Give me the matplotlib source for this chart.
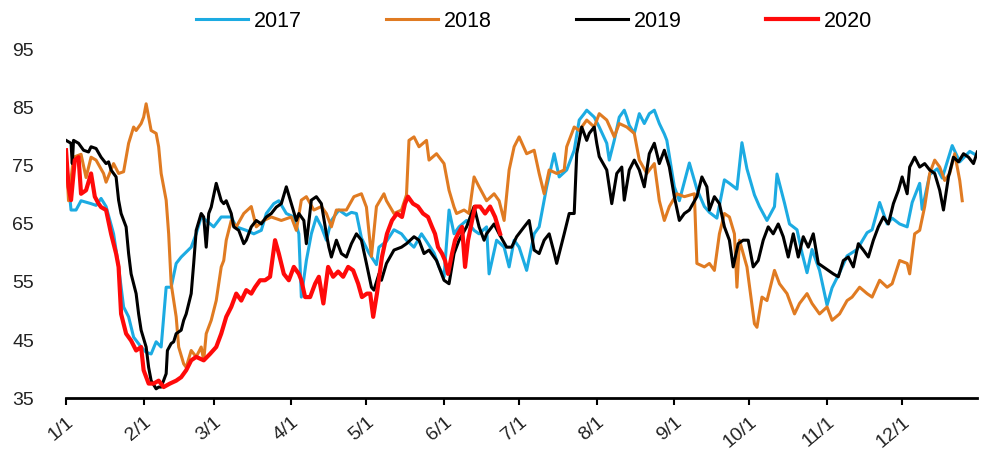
import numpy as np
import matplotlib
matplotlib.use("Agg")
import matplotlib.pyplot as plt

plt.rcParams["font.family"] = ["Liberation Sans", "DejaVu Sans"]

# day of year (0 = 1/1) and index values
days_2017 = [0, 2, 4, 6, 10, 12, 14, 16, 19, 21, 23, 25, 27, 30, 32, 34, 36, 38, 39, 40,
             42, 44, 46, 50, 52, 54, 56, 59, 62, 66, 68, 72, 75, 78, 80, 83, 85, 88, 91, 93,
             94, 96, 98, 100, 102, 104, 106, 109, 112, 114, 116, 118, 121, 124, 125, 128, 131, 134, 136, 139,
             142, 144, 147, 149, 151, 153, 155, 157, 160, 163, 165, 168, 169, 172, 175, 177, 179, 181, 184, 187,
             189, 192, 195, 197, 200, 203, 205, 207, 208, 211, 213, 216, 217, 219, 221, 223, 224, 225, 227, 229,
             231, 233, 235, 237, 239, 240, 243, 245, 249, 252, 255, 257, 260, 263, 265, 268, 270, 272, 275, 277,
             280, 283, 284, 287, 289, 292, 294, 296, 298, 301, 304, 306, 309, 312, 316, 320, 322, 325, 328, 330,
             333, 336, 338, 341, 342, 345, 348, 350, 354, 357, 361, 363]
vals_2017 = [76.5, 67.4, 67.4, 69, 68.5, 68.2, 69.4, 68, 63.3, 57.6, 50.7, 49, 45.5, 43.8, 42.9, 42.6, 44.7, 43.8, 49, 54.1,
             54.1, 58.2, 59.3, 61, 63.3, 66.2, 65.6, 64.5, 66.2, 66.2, 64.5, 63.9, 63.3, 63.9, 66.8, 68.5, 69, 66.8, 66.2, 63.3,
             52.4, 58.7, 63.3, 66.2, 64.5, 62.2, 65.6, 67.4, 66.5, 67, 66.8, 62.6, 60, 58, 61, 62, 64, 63.3, 62.2, 61,
             63.3, 62, 60, 57.6, 55.9, 67.4, 63.3, 64.5, 65.6, 63.9, 63.3, 64.5, 56.4, 62.2, 61, 57.6, 62.2, 61, 57, 63.3,
             64.5, 71.4, 77.1, 73.1, 74.3, 77.7, 82.9, 84, 84.6, 83.4, 81.7, 78.9, 76, 79.4, 83.4, 84.6, 83.4, 82, 80.6, 84,
             82.3, 84, 84.6, 82.3, 80.5, 79.4, 71.4, 69, 75.5, 71, 68, 67, 66, 72.6, 72, 71, 79, 74.5, 70, 68,
             65.6, 68, 73.6, 68.6, 65, 64, 60, 56.6, 60.6, 57, 51, 54, 56.6, 59.5, 60.6, 63.5, 64, 68.7, 65, 66,
             65, 64.5, 68.7, 72, 67.5, 73.5, 74.5, 72.9, 78.5, 75.7, 77.5, 77]

days_2018 = [0, 1, 3, 6, 8, 10, 12, 15, 16, 19, 21, 23, 25, 27, 28, 30, 31, 32, 34, 36,
             37, 38, 40, 41, 42, 44, 45, 47, 48, 50, 52, 54, 55, 56, 58, 60, 62, 63, 64, 66,
             68, 71, 74, 76, 79, 82, 86, 90, 92, 94, 96, 99, 102, 104, 106, 108, 112, 115, 118, 120,
             122, 124, 127, 128, 131, 134, 136, 137, 139, 141, 144, 145, 148, 151, 153, 155, 156, 159, 161, 163,
             165, 168, 171, 173, 175, 177, 179, 181, 184, 187, 189, 191, 193, 196, 199, 200, 203, 205, 208, 211,
             213, 216, 219, 221, 224, 227, 229, 232, 235, 237, 239, 241, 244, 247, 251, 252, 255, 257, 259, 261,
             263, 265, 267, 268, 269, 272, 275, 276, 278, 280, 283, 285, 288, 291, 293, 296, 298, 301, 304, 306,
             309, 312, 314, 317, 320, 322, 325, 328, 330, 333, 336, 337, 339, 341, 343, 345, 347, 349, 351, 353,
             355, 357, 358]
vals_2018 = [77, 69, 76.5, 77, 73, 76.5, 76, 73.7, 72.2, 75.4, 73.7, 74, 78.9, 81.7, 81.1, 82.3, 83.4, 85.7, 81.1, 80.6,
             78.3, 73.7, 69.1, 63.3, 54.7, 49, 43.8, 40.9, 40.3, 43.2, 42.1, 43.8, 41.5, 46.1, 48.4, 51.8, 57.6, 58.7, 62.2, 65.6,
             64.5, 66.8, 68, 64.5, 65.6, 66.2, 65.6, 66.2, 63.9, 69.1, 69.7, 67.4, 68, 66.8, 64.5, 67.4, 67.4, 69.7, 70.2, 67.9,
             59.4, 68, 70.2, 69, 66.8, 67.4, 70, 79.4, 80, 78.3, 79.4, 76, 77.1, 75.4, 70.8, 67.9, 66.8, 67.4, 66.8, 73.1,
             71.4, 69, 70.2, 69, 65.6, 74.3, 78.3, 80, 77.1, 77.7, 73.7, 70.2, 74.3, 73.7, 74.3, 78.3, 81.7, 81.1, 82.9, 81.7,
             84, 82.9, 80, 82.3, 81.7, 80.6, 76, 73.7, 75.4, 69, 65.6, 68, 70.2, 69.7, 70.2, 58.2, 57.6, 58.2, 57, 63.3,
             66.8, 66.2, 63.3, 54.1, 62.2, 57.6, 47.8, 47.2, 52.4, 51.8, 57, 54.7, 53, 49.5, 51.3, 53, 51.3, 49.5, 50.7, 48.4,
             49.5, 51.8, 52.4, 54.1, 53, 52.4, 55.3, 54.1, 54.7, 58.7, 58.2, 56.4, 63.3, 63.9, 68, 73.7, 76, 74.8, 72.5, 73.7,
             77.1, 72.5, 69]

days_2019 = [0, 2, 2.5, 3, 5, 7, 9, 10, 12, 14, 16, 17, 18, 20, 21, 22, 24, 25, 26, 28,
             29, 30, 32, 33, 34, 36, 37, 38, 40, 40.5, 42, 43, 44, 46, 47, 48, 50, 51, 52, 54,
             55, 56, 57, 58, 60, 62, 63, 64, 66, 67, 69, 71, 72, 74, 76, 78, 80, 82, 84, 86,
             88, 90, 92, 93, 95, 96, 98, 100, 102, 104, 105, 106, 108, 110, 112, 114, 116, 118, 120, 122,
             123, 125, 126, 128, 131, 134, 136, 139, 141, 143, 145, 148, 151, 153, 155, 157, 160, 163, 165, 167,
             168, 171, 173, 176, 178, 180, 183, 185, 187, 189, 191, 193, 195, 196, 199, 201, 203, 204, 206, 208,
             209, 211, 212, 213, 216, 218, 220, 222, 223, 225, 227, 229, 231, 233, 235, 237, 239, 241, 243, 245,
             247, 249, 252, 254, 256, 257, 259, 261, 263, 265, 266.5, 268.5, 270.5, 272.5, 274.5, 276.5, 278.5, 280.5, 282.5, 284.5,
             286.5, 288.5, 290.5, 292.5, 294.5, 296.5, 298.5, 300.5, 302.5, 304.5, 306.5, 308.5, 310.5, 312.5, 314.5, 316.5, 318.5, 320.5, 322.5, 324.5,
             326.5, 328.5, 330.5, 332.5, 334, 336, 337, 339, 341, 343, 345, 347, 349, 350.5, 352.5, 354.5, 356.5, 358.5, 360.5, 362.5,
             364]
vals_2019 = [79.4, 78.9, 75.4, 79.4, 78.9, 77.7, 77.4, 78.3, 78, 76.5, 75.4, 75.7, 74.3, 73.1, 69.1, 66.8, 64.5, 59.9, 56.4, 53,
             49.5, 46.7, 43.8, 40.3, 38, 36.6, 36.9, 36.9, 39.2, 43.2, 44.4, 44.7, 46.1, 46.7, 48.4, 49.5, 53, 58.2, 63.9, 66.8,
             66.2, 61, 66.8, 67.9, 72, 69, 68.5, 69, 66.8, 64.5, 63.9, 61.6, 62.2, 64.5, 65.6, 65, 66.2, 66.8, 67.9, 68.5,
             71.4, 68.5, 65.6, 66.8, 65.6, 61.6, 69.1, 69.7, 68.5, 63.3, 61, 59.3, 62.2, 59.9, 59.3, 61.6, 63.3, 62.2, 58.2, 54.1,
             53.6, 56.4, 55.3, 58.2, 60.5, 61, 61.6, 62.8, 62.2, 59.9, 60.5, 58.7, 55.3, 54.7, 59.9, 62.2, 64.5, 68, 64.5, 62.2,
             63.3, 65, 63.3, 61, 61, 62.8, 64.5, 65.6, 60.5, 59.9, 62.2, 63.3, 60, 58.2, 63.3, 66.8, 66.8, 77.1, 81.7, 79.4,
             80.6, 81.7, 78.9, 76.6, 74.3, 68.5, 73.7, 74.8, 69.1, 74.3, 76, 74.3, 71.4, 77.1, 78.9, 75.4, 77.7, 74.8, 69.7, 65.6,
             66.8, 67.4, 69.7, 73.1, 71.4, 67.4, 69.7, 68.5, 64.5, 62.2, 57.6, 61.6, 62.2, 62.2, 57.6, 58.7, 62.2, 64.5, 63.3, 65,
             62.8, 59.3, 63.3, 59.3, 62.8, 61, 63.3, 58.2, 57.6, 57, 56.4, 55.9, 58.7, 59.3, 57.6, 61.6, 60.5, 59.3, 62.2, 64.5,
             66.2, 65, 68.5, 70.8, 73.1, 70.2, 74.8, 76.5, 74.8, 75.4, 74.3, 73.7, 70.8, 67.4, 73.1, 76.5, 75.7, 77.1, 76.5, 75.4,
             77.4]

days_2020 = [0, 1, 2, 3.5, 5, 6, 8, 10, 11.5, 13, 14, 16, 18, 20, 21, 22, 24, 26, 28, 30,
             31, 33, 35, 37, 39, 41.5, 44, 46, 48, 50, 52, 55, 57.5, 60, 62, 64, 66, 68, 70, 72,
             74, 75.5, 77.5, 79.5, 81.5, 83.5, 85, 87, 89, 91, 93, 94, 95.5, 97.5, 99.5, 101, 102.8, 104.7, 106.7, 108.7,
             110.7, 112.7, 114.7, 116.7, 118.2, 120.2, 121.5, 122.7, 124.2, 126.2, 128.2, 130.2, 132.2, 134.2, 135.4, 136.6, 138.6, 140.6, 142.6, 144.6,
             146.2, 147.4, 148.6, 150.2, 151.4, 152.6, 154.2, 155.4, 156.6, 158.2, 159.4, 160.6, 162.2, 163.4, 165.4, 167.4, 169.4, 171.4, 173.4]
vals_2020 = [77.7, 71.4, 69.1, 76, 76.5, 70.2, 70.8, 73.7, 69.7, 68.5, 67.9, 67.4, 63.3, 59.9, 57.6, 49.5, 46.1, 44.9, 43.2, 43.8,
             39.8, 37.5, 37.5, 38, 36.9, 37.5, 38, 38.6, 39.8, 41.5, 42.1, 41.5, 42.6, 43.8, 46.1, 49, 50.7, 53, 51.8, 53.6,
             53, 54.1, 55.3, 55.3, 55.9, 62.2, 59.9, 56.4, 55.3, 57.6, 56.4, 55.3, 52.4, 52.4, 54.7, 55.9, 51.3, 57.6, 55.9, 56.8,
             55.9, 57.6, 57, 54.7, 52.4, 53, 53, 49, 53, 59.3, 63.3, 65.6, 66.8, 66.2, 68.5, 69.7, 68.5, 68, 66.8, 66.2,
             64.5, 63.3, 61, 59.9, 58.7, 56.4, 59.9, 62.2, 63.3, 64.5, 57.6, 62.2, 65.6, 68, 68, 66.8, 68, 66.2, 63.3]

month_days = [0, 31, 59, 90, 120, 151, 181, 212, 243, 273, 304, 334]
month_labels = ["1/1", "2/1", "3/1", "4/1", "5/1", "6/1", "7/1", "8/1", "9/1", "10/1", "11/1", "12/1"]
y_ticks = [35, 45, 55, 65, 75, 85, 95]

fig = plt.figure(figsize=(10.08, 4.70), dpi=100)
ax = fig.add_axes([0.0655, 0.153, 0.904, 0.741])

ax.plot(days_2017, vals_2017, color="#1CABE2", lw=2.2, label="2017")
ax.plot(days_2018, vals_2018, color="#E07B22", lw=2.2, label="2018")
ax.plot(days_2019, vals_2019, color="black", lw=2.2, label="2019")
ax.plot(days_2020, vals_2020, color="#FF0A0A", lw=3.0, label="2020")

ax.set_xlim(0, 364)
ax.set_ylim(35, 95)
ax.set_yticks(y_ticks)
ax.set_xticks(month_days)
ax.set_xticklabels(month_labels, rotation=40, ha="right", rotation_mode="anchor")

for s in ["top", "right", "left"]:
    ax.spines[s].set_visible(False)
ax.spines["bottom"].set_linewidth(2.0)
ax.tick_params(axis="y", length=0, pad=23, labelsize=14, colors="#222222")
ax.tick_params(axis="x", length=5, width=1.5, direction="out", pad=6, labelsize=14, labelcolor="#222222")

fig.legend(loc="center", bbox_to_anchor=(0.53, 0.955), ncol=4, frameon=False,
           fontsize=15.5, handlelength=2.4, columnspacing=3.9, handletextpad=0.3)

fig.savefig("out.png", dpi=100)
